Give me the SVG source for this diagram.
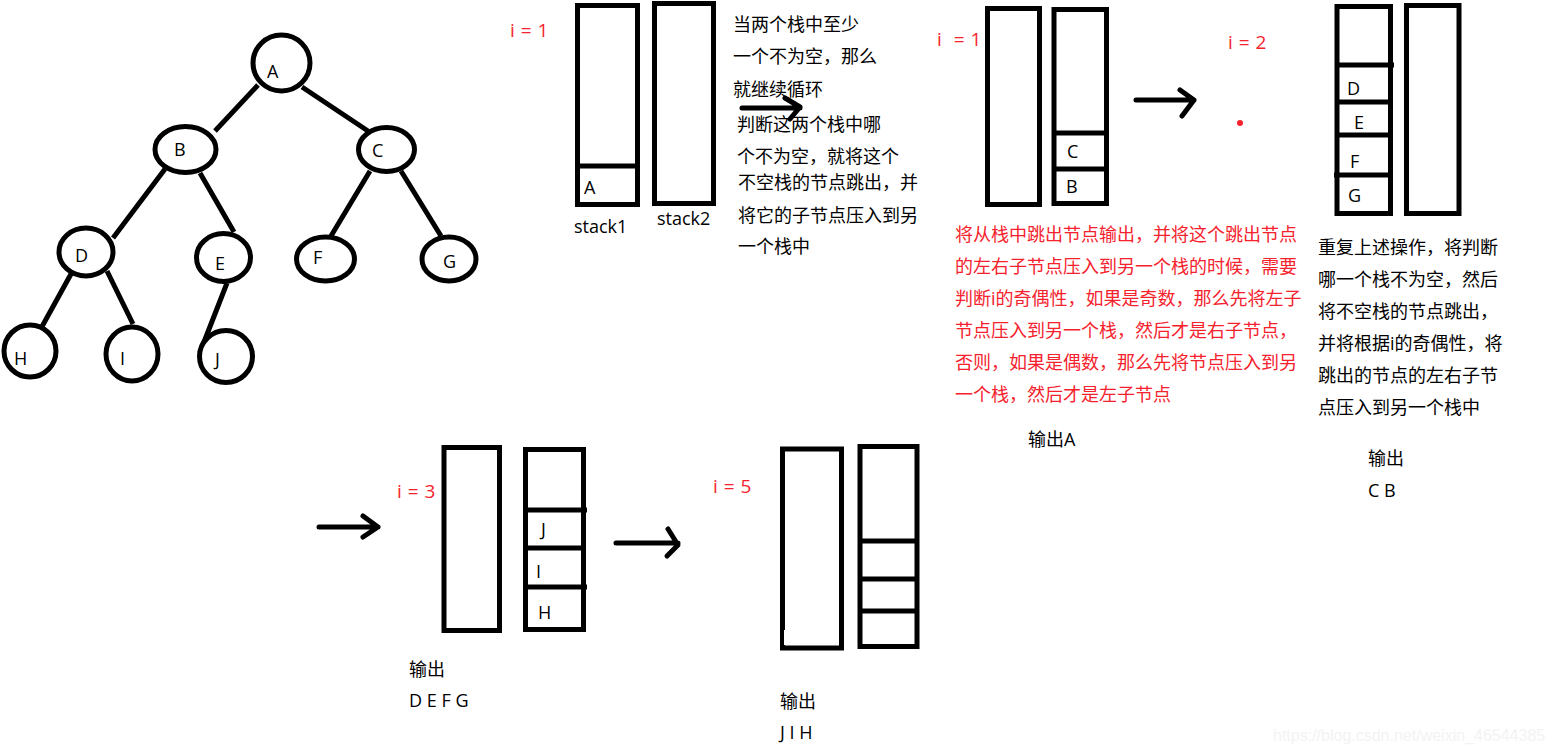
<svg xmlns="http://www.w3.org/2000/svg" width="1554" height="754" viewBox="0 0 1554 754">
<style>
text{font-family:"Open Sans","Noto Sans CJK SC",sans-serif;font-size:18px;fill:#000;white-space:pre}
.r{fill:#f5222d}
.i{font-size:19px;word-spacing:1px}
.s{fill:none;stroke:#000;stroke-width:5}
.n{fill:#fff;stroke:#000;stroke-width:5}
.l{fill:none;stroke:#000;stroke-width:5;stroke-linecap:round;stroke-linejoin:round}
.e{fill:none;stroke:#000;stroke-width:5}
.w{font-family:"Liberation Sans",sans-serif;font-size:16px;fill:#f3f3f3}
</style>
<rect width="1554" height="754" fill="#fff"/>
<g id="edges">
<path class="e" d="M258 85L215 131M302 87L368 131M165 169L113 238M200 173L234 232M370 171L328 241M401 171L441 236M71 274L39 332M107 271L133 324M227 283L204 342"/>
</g>
<g id="node-A"><ellipse class="n" cx="281.5" cy="63" rx="28.5" ry="28"/><text x="267" y="78">A</text></g>
<g id="node-B"><ellipse class="n" cx="185.5" cy="149.5" rx="30.5" ry="23"/><text x="174" y="156">B</text></g>
<g id="node-C"><ellipse class="n" cx="386.5" cy="149.5" rx="28" ry="22"/><text x="372" y="157">C</text></g>
<g id="node-D"><ellipse class="n" cx="86" cy="252" rx="27" ry="24"/><text x="75" y="262">D</text></g>
<g id="node-E"><ellipse class="n" cx="223.5" cy="257.5" rx="27" ry="24"/><text x="215" y="270">E</text></g>
<g id="node-F"><ellipse class="n" cx="325.5" cy="259" rx="29" ry="22"/><text x="313" y="264">F</text></g>
<g id="node-G"><ellipse class="n" cx="449" cy="259" rx="27" ry="22"/><text x="443" y="268">G</text></g>
<g id="node-H"><ellipse class="n" cx="30" cy="351" rx="26" ry="26"/><text x="14" y="365">H</text></g>
<g id="node-I"><ellipse class="n" cx="132" cy="354" rx="26" ry="27"/><text x="120" y="365">I</text></g>
<g id="node-J"><ellipse class="n" cx="226" cy="356.5" rx="26.5" ry="26"/><text x="215" y="366">J</text></g>
<g id="stack-1a"><rect class="s" x="577.5" y="5.5" width="60" height="199"/><path class="s" d="M577 166H638"/><text x="584" y="194">A</text><text x="574" y="233">stack1</text></g>
<g id="stack-1b"><rect class="s" x="654.5" y="3.5" width="59" height="200"/><text x="657" y="225">stack2</text></g>
<g id="stack-2a"><rect class="s" x="987.5" y="8.5" width="52" height="196"/></g>
<g id="stack-2b"><rect class="s" x="1054" y="9.5" width="52.5" height="194"/><path class="s" d="M1054 133H1107M1054 169H1107"/><text x="1067" y="158">C</text><text x="1066" y="193">B</text></g>
<g id="stack-3a"><rect class="s" x="1337" y="6.5" width="53.5" height="207"/><path class="s" d="M1337 65H1394M1337 102H1391M1337 135H1391M1334 175H1391"/><text x="1347" y="95">D</text><text x="1354" y="129">E</text><text x="1350" y="168">F</text><text x="1348" y="202">G</text></g>
<g id="stack-3b"><rect class="s" x="1406.5" y="5.5" width="52.5" height="208"/></g>
<g id="stack-4a"><rect class="s" x="444" y="447.5" width="55.5" height="183"/></g>
<g id="stack-4b"><rect class="s" x="525.5" y="449.5" width="58" height="180"/><path class="s" d="M525 510H587M525 548H584M525 587H587"/><text x="541" y="536">J</text><text x="536" y="578">I</text><text x="538" y="619">H</text></g>
<g id="stack-5a"><rect class="s" x="782.5" y="449" width="59" height="199"/><rect x="784" y="630" width="16" height="15" fill="#fff"/><rect x="840" y="605" width="4" height="5" fill="#000"/></g>
<g id="stack-5b"><rect class="s" x="860" y="446.5" width="57" height="200"/><path class="s" d="M860 541H918M860 579H918M860 611H918"/></g>
<g id="connectors">
<path class="l" d="M742 108H800M785 98L800 107L790 119"/>
<path class="l" d="M1136 100H1194M1180 90L1194 100L1182 116"/>
<path class="l" d="M319 527H378M363 516L378 527L363 537"/>
<path class="l" d="M616 543H678M668 529L678 545L667 556"/>
</g>
<circle cx="1240" cy="123" r="3" fill="#f5222d"/>
<g id="labels">
<text class="r i" x="510" y="37">i = 1</text>
<text class="r i" x="937" y="46">i  = 1</text>
<text class="r i" x="1228" y="49">i = 2</text>
<text class="r i" x="397" y="498">i = 3</text>
<text class="r i" x="713" y="493">i = 5</text>
<text x="733" y="31">当两个栈中至少</text>
<text x="733" y="63">一个不为空，那么</text>
<text x="733" y="96">就继续循环</text>
<text x="737" y="131">判断这两个栈中哪</text>
<text x="737" y="163">个不为空，就将这个</text>
<text x="738" y="189">不空栈的节点跳出，并</text>
<text x="738" y="222">将它的子节点压入到另</text>
<text x="738" y="253">一个栈中</text>
<text class="r" x="955" y="241">将从栈中跳出节点输出，并将这个跳出节点</text>
<text class="r" x="955" y="273">的左右子节点压入到另一个栈的时候，需要</text>
<text class="r" x="955" y="305">判断i的奇偶性，如果是奇数，那么先将左子</text>
<text class="r" x="955" y="337">节点压入到另一个栈，然后才是右子节点，</text>
<text class="r" x="955" y="369">否则，如果是偶数，那么先将节点压入到另</text>
<text class="r" x="955" y="401">一个栈，然后才是左子节点</text>
<text x="1318" y="254">重复上述操作，将判断</text>
<text x="1318" y="286">哪一个栈不为空，然后</text>
<text x="1318" y="318">将不空栈的节点跳出，</text>
<text x="1318" y="350">并将根据i的奇偶性，将</text>
<text x="1318" y="382">跳出的节点的左右子节</text>
<text x="1318" y="414">点压入到另一个栈中</text>
<text x="1028" y="446">输出A</text>
<text x="1368" y="465">输出</text>
<text x="1368" y="497">C B</text>
<text x="409" y="676">输出</text>
<text x="409" y="707">D E F G</text>
<text x="780" y="708">输出</text>
<text x="780" y="739">J I H</text>
<text class="w" x="1273" y="741">https://blog.csdn.net/weixin_46544385</text>
</g>
</svg>
